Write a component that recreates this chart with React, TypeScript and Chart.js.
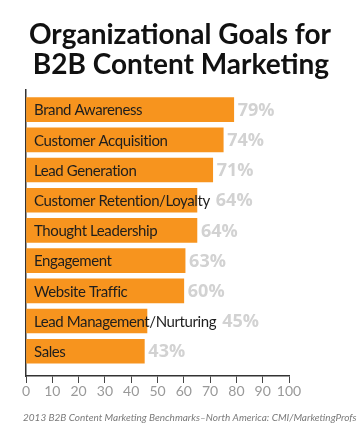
import React, { useEffect, useRef } from "react";
import { Chart, registerables } from "chart.js";

Chart.register(...registerables);

const titleLines = ["Organizational Goals for", "B2B Content Marketing"];
const categories = [
  "Brand Awareness",
  "Customer Acquisition",
  "Lead Generation",
  "Customer Retention/Loyalty",
  "Thought Leadership",
  "Engagement",
  "Website Traffic",
  "Lead Management/Nurturing",
  "Sales",
];
// bar lengths as drawn in the picture
const barValues = [79, 75, 71, 65, 65, 60.5, 60, 46, 45];
// percentages as printed next to the bars
const printedValues = [79, 74, 71, 64, 64, 63, 60, 45, 43];
const xTicks = [0, 10, 20, 30, 40, 50, 60, 70, 80, 90, 100];
const footnote = "2013 B2B Content Marketing Benchmarks\u2013North America: CMI/MarketingProfs";

const W = 363;
const H = 429;

const labelsPlugin = {
  id: "customLabels",
  afterDatasetsDraw(chart: any) {
    const ctx = chart.ctx;
    const meta = chart.getDatasetMeta(0);
    ctx.save();
    meta.data.forEach((bar: any, i: number) => {
      const y = bar.y;
      ctx.textBaseline = "middle";
      ctx.textAlign = "left";
      ctx.fillStyle = "#1e1e1e";
      ctx.font = "15px Lato";
      try { (ctx as any).letterSpacing = "-0.4px"; } catch (e) {}
      ctx.fillText(categories[i], chart.chartArea.left + 8, y + 1);
      const nameEnd = chart.chartArea.left + 8 + ctx.measureText(categories[i]).width;
      try { (ctx as any).letterSpacing = "0px"; } catch (e) {}
      const start = Math.max(bar.x + 4, nameEnd + 6);
      ctx.font = "bold 18px 'Open Sans'";
      ctx.fillStyle = "#d2d2d2";
      ctx.fillText(printedValues[i] + "%", start, y + 1);
    });
    ctx.restore();
  },
  afterDraw(chart: any) {
    const ctx = chart.ctx;
    ctx.save();
    ctx.textAlign = "center";
    ctx.textBaseline = "alphabetic";
    ctx.fillStyle = "#111111";
    ctx.font = "bold 28px Lato";
    ctx.fillText(titleLines[0], 180, 44);
    ctx.fillText(titleLines[1], 181, 74);
    ctx.font = "italic 10px Lato";
    ctx.fillStyle = "#7a7a7a";
    ctx.textAlign = "left";
    ctx.fillText(footnote, 23, 421);
    ctx.restore();
  },
};

export default function App() {
  const ref = useRef<HTMLCanvasElement>(null);
  useEffect(() => {
    if (!ref.current) return;
    const chart = new Chart(ref.current, {
      type: "bar",
      data: {
        datasets: [
          {
            data: barValues.map((v, i) => ({ x: v, y: i })),
            backgroundColor: "#F7941E",
            borderWidth: 0,
            barThickness: 24,
          },
        ],
      },
      options: {
        indexAxis: "y",
        responsive: false,
        animation: false,
        layout: { padding: { top: 90, left: 26, right: 74, bottom: 23 } },
        plugins: { legend: { display: false }, tooltip: { enabled: false }, title: { display: false } },
        scales: {
          x: {
            type: "linear",
            min: 0,
            max: 100,
            afterBuildTicks(scale: any) {
              scale.ticks = xTicks.map((v) => ({ value: v }));
            },
            afterFit(scale: any) {
              scale.height = 30;
            },
            ticks: {
              color: "#999999",
              font: { family: "Lato", size: 14 },
              padding: 0,
              maxRotation: 0,
              autoSkip: false,
            },
            grid: { drawOnChartArea: false, tickLength: 7, color: "#444", lineWidth: 1 },
            border: { color: "#333", width: 1.5 },
          },
          y: {
            type: "linear",
            reverse: true,
            offset: false,
            min: -0.65,
            max: 8.82,
            afterFit(scale: any) {
              scale.width = 0;
            },
            ticks: { display: false },
            grid: { display: false, drawOnChartArea: false, tickLength: 0, offset: false },
            border: { color: "#333", width: 1.5 },
          },
        },
      },
      plugins: [labelsPlugin],
    } as any);
    return () => chart.destroy();
  }, []);
  return (
    <div style={{ position: "fixed", left: 0, top: 0, width: W, height: H, background: "#fff" }}>
      <canvas ref={ref} width={W} height={H} style={{ display: "block" }} />
    </div>
  );
}
